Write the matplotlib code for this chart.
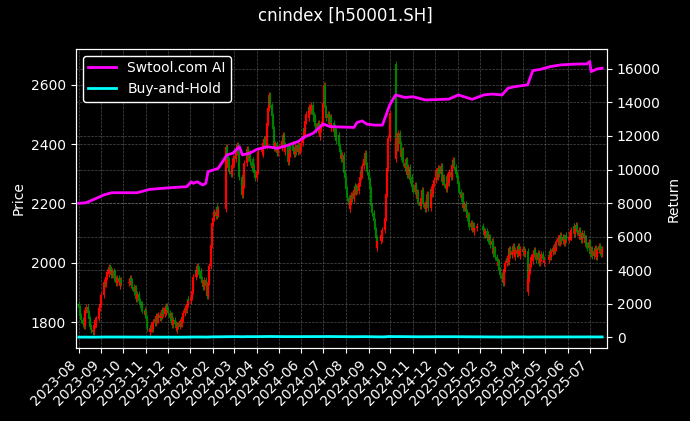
import pandas as pd
import matplotlib
matplotlib.use("Agg")
import matplotlib.pyplot as plt
import matplotlib.dates as mdates

plt.style.use("dark_background")

#
# Inputs
#

# daily closes, one line per month
close_2023_08 = [1848, 1835, 1822, 1806, 1795, 1788, 1812, 1840, 1852, 1830, 1812, 1798, 1785, 1772, 1768, 1790, 1806, 1795, 1812, 1828, 1846, 1862, 1875]
close_2023_09 = [1890, 1912, 1935, 1928, 1952, 1970, 1962, 1985, 1978, 1960, 1972, 1950, 1965, 1944, 1930, 1948, 1936, 1922, 1942, 1930]
close_2023_10 = [1935, 1948, 1925, 1940, 1918, 1902, 1915, 1890, 1878, 1895, 1872, 1860, 1848, 1862, 1840, 1825, 1838]
close_2023_11 = [1815, 1798, 1780, 1768, 1775, 1790, 1778, 1800, 1812, 1798, 1820, 1808, 1825, 1815, 1832, 1820, 1840, 1828, 1848, 1835, 1855, 1842]
close_2023_12 = [1832, 1815, 1825, 1805, 1790, 1808, 1795, 1780, 1772, 1790, 1785, 1802, 1795, 1818, 1810, 1832, 1848, 1840, 1862, 1878, 1870]
close_2024_01 = [1885, 1905, 1930, 1952, 1975, 1962, 1990, 1978, 1960, 1972, 1945, 1930, 1918, 1942, 1920, 1898, 1888, 1935, 1990, 2060, 2110, 2135]
close_2024_02 = [2150, 2172, 2158, 2188, 2165, 2180, 2390, 2355, 2320, 2345, 2310, 2298, 2330, 2352, 2335]
close_2024_03 = [2350, 2372, 2398, 2365, 2330, 2290, 2255, 2228, 2262, 2300, 2335, 2362, 2385, 2352, 2370, 2340, 2318, 2348, 2325, 2302, 2285]
close_2024_04 = [2310, 2345, 2372, 2390, 2365, 2402, 2418, 2395, 2470, 2520, 2548, 2565, 2530, 2495, 2452, 2410, 2385, 2402, 2370, 2388]
close_2024_05 = [2410, 2432, 2398, 2372, 2390, 2355, 2340, 2368, 2395, 2380, 2402, 2378, 2365, 2390, 2372, 2385, 2398, 2375, 2388, 2405]
close_2024_06 = [2428, 2455, 2440, 2478, 2502, 2488, 2525, 2510, 2532, 2498, 2475, 2490, 2462, 2448, 2470, 2440, 2425, 2452, 2468]
close_2024_07 = [2540, 2598, 2565, 2520, 2488, 2502, 2468, 2490, 2455, 2472, 2440, 2458, 2425, 2445, 2410, 2430, 2395, 2372, 2350, 2362, 2325, 2302, 2285]
close_2024_08 = [2250, 2218, 2195, 2180, 2205, 2228, 2215, 2245, 2260, 2238, 2255, 2242, 2268, 2290, 2310, 2295, 2325, 2348, 2370, 2352, 2330, 2305]
close_2024_09 = [2280, 2250, 2215, 2190, 2168, 2140, 2110, 2085, 2050, 2072, 2095, 2080, 2110, 2128, 2150, 2230, 2320, 2420, 2505]
close_2024_10 = [2350, 2420, 2385, 2438, 2400, 2372, 2355, 2380, 2335, 2320, 2348, 2310, 2295, 2322, 2280, 2268, 2290, 2255]
close_2024_11 = [2240, 2262, 2230, 2215, 2238, 2205, 2190, 2218, 2245, 2225, 2198, 2180, 2205, 2232, 2210, 2186, 2220, 2248, 2230, 2265, 2280]
close_2024_12 = [2295, 2310, 2288, 2318, 2300, 2325, 2296, 2272, 2290, 2265, 2248, 2275, 2292, 2270, 2305, 2288, 2312, 2330, 2345, 2322, 2300, 2285]
close_2025_01 = [2265, 2240, 2218, 2230, 2205, 2185, 2198, 2170, 2150, 2162, 2138, 2120, 2135, 2112, 2128, 2105, 2118, 2125]
close_2025_02 = [2110, 2095, 2108, 2082, 2098, 2075, 2088, 2060, 2072, 2045, 2030, 2048, 2020, 2005, 1990, 2002, 1975, 1960]
close_2025_03 = [1945, 1932, 1955, 1978, 1998, 2015, 2002, 2030, 2048, 2025, 2040, 2058, 2035, 2020, 2042, 2030, 2055, 2038, 2022, 2045, 2035]
close_2025_04 = [2045, 2030, 2040, 1900, 1945, 1972, 1995, 2018, 2005, 2030, 2042, 2025, 2010, 2032, 2018, 2000, 2015, 2028, 2012, 1998, 2010]
close_2025_05 = [2025, 2040, 2018, 2035, 2050, 2038, 2062, 2048, 2070, 2085, 2065, 2078, 2095, 2072, 2088, 2068, 2080, 2092, 2075]
close_2025_06 = [2088, 2102, 2085, 2110, 2125, 2098, 2115, 2128, 2105, 2090, 2112, 2095, 2078, 2100, 2085, 2068, 2082, 2060, 2048, 2070]
close_2025_07 = [2055, 2030, 2045, 2022, 2038, 2050, 2032, 2018, 2042, 2058, 2035, 2048, 2030, 2045]

# market closed on these weekdays
holidays = ["2023-09-29", "2023-10-02", "2023-10-03", "2023-10-04", "2023-10-05", "2023-10-06",
            "2024-01-01", "2024-02-09", "2024-02-12", "2024-02-13", "2024-02-14", "2024-02-15", "2024-02-16",
            "2024-04-04", "2024-04-05", "2024-05-01", "2024-05-02", "2024-05-03", "2024-06-10",
            "2024-09-16", "2024-09-17", "2024-10-01", "2024-10-02", "2024-10-03", "2024-10-04", "2024-10-07",
            "2025-01-01", "2025-01-28", "2025-01-29", "2025-01-30", "2025-01-31", "2025-02-03", "2025-02-04",
            "2025-04-04", "2025-05-01", "2025-05-02", "2025-05-05", "2025-06-02"]

# opens that differ from the previous close
gap_open = {"2023-08-01": 1860, "2024-10-08": 2670}

# strategy curve (right axis)
swtool_dates = ["2023-08-01", "2023-08-11", "2023-08-25", "2023-09-04", "2023-09-15", "2023-10-20",
                "2023-11-06", "2023-12-04", "2023-12-27", "2024-01-02", "2024-01-05", "2024-01-10",
                "2024-01-18", "2024-01-22", "2024-01-25", "2024-02-08", "2024-02-20", "2024-02-28",
                "2024-03-08", "2024-03-12", "2024-03-22", "2024-04-01", "2024-04-15", "2024-04-29",
                "2024-05-10", "2024-05-27", "2024-06-06", "2024-06-17", "2024-07-01", "2024-07-10",
                "2024-08-12", "2024-08-16", "2024-08-23", "2024-08-30", "2024-09-10", "2024-09-20",
                "2024-09-26", "2024-09-30", "2024-10-08", "2024-10-21", "2024-11-01", "2024-11-18",
                "2024-12-20", "2025-01-02", "2025-01-13", "2025-01-21", "2025-02-06", "2025-02-17",
                "2025-03-03", "2025-03-11", "2025-03-21", "2025-04-07", "2025-04-14", "2025-04-25",
                "2025-05-08", "2025-05-22", "2025-06-11", "2025-06-27", "2025-07-01", "2025-07-03",
                "2025-07-11", "2025-07-18"]
swtool_values = [7980, 8020, 8280, 8480, 8615, 8615,
                 8815, 8915, 8975, 9270, 9175, 9270,
                 9075, 9175, 9870, 10070, 10870, 10970,
                 11360, 10870, 10970, 11200, 11360, 11270,
                 11400, 11660, 11960, 12160, 12720, 12560,
                 12510, 12800, 12900, 12700, 12650, 12650,
                 13370, 13850, 14450, 14300, 14340, 14150,
                 14200, 14450, 14300, 14190, 14450, 14500,
                 14450, 14850, 14950, 15050, 15900, 15980,
                 16140, 16240, 16290, 16300, 16440, 15840,
                 16000, 16040]

#
# Prepare
#

close = (close_2023_08 + close_2023_09 + close_2023_10 + close_2023_11 + close_2023_12 +
         close_2024_01 + close_2024_02 + close_2024_03 + close_2024_04 + close_2024_05 +
         close_2024_06 + close_2024_07 + close_2024_08 + close_2024_09 + close_2024_10 +
         close_2024_11 + close_2024_12 + close_2025_01 + close_2025_02 + close_2025_03 +
         close_2025_04 + close_2025_05 + close_2025_06 + close_2025_07)

dates = pd.bdate_range("2023-08-01", periods=len(close), freq="C", holidays=holidays)

opens = []
prev = close[0]
for d, c in zip(dates, close):
    opens.append(gap_open.get(d.strftime("%Y-%m-%d"), prev))
    prev = c

body_lo = [min(o, c) for o, c in zip(opens, close)]
body_hi = [max(o, c) for o, c in zip(opens, close)]
colors = ["red" if c >= o else "green" for o, c in zip(opens, close)]

# buy-and-hold return of the index, in percent
buy_hold = [(c / close[0] - 1) * 100 for c in close]

#
# Plot
#

wick = 10  # shadow drawn past the body, price units (style only)

fig = plt.figure(figsize=(6.9, 4.21), dpi=100)
ax = fig.add_axes([0.110, 0.173, 0.770, 0.711])

ax.vlines(dates, [v - wick for v in body_lo], [v + wick for v in body_hi], colors=colors, linewidth=0.7)
ax.vlines(dates, body_lo, body_hi, colors=colors, linewidth=1.6)
ax.set_ylim(1712, 2721)
ax.set_yticks([1800, 2000, 2200, 2400, 2600])
ax.set_ylabel("Price")
ax.set_xlim(pd.Timestamp("2023-07-28"), pd.Timestamp("2025-07-25"))
ax.xaxis.set_major_locator(mdates.MonthLocator())
ax.xaxis.set_major_formatter(mdates.DateFormatter("%Y-%m"))
plt.setp(ax.get_xticklabels(), rotation=45, ha="right")
ax.grid(True, linestyle="--", linewidth=0.5, color="gray", alpha=0.6)

ax2 = ax.twinx()
ax2.plot(pd.to_datetime(swtool_dates), swtool_values, color="magenta", linewidth=2, label="Swtool.com AI")
ax2.plot(dates, buy_hold, color="cyan", linewidth=2, label="Buy-and-Hold")
ax2.set_ylim(-660, 17200)
ax2.set_yticks(range(0, 16001, 2000))
ax2.set_ylabel("Return")
ax2.grid(True, axis="y", linestyle="--", linewidth=0.5, color="gray", alpha=0.6)
ax2.legend(loc="upper left", facecolor="black", edgecolor="white", framealpha=1)

fig.text(0.5, 0.963, "cnindex [h50001.SH]", ha="center", va="center", fontsize=12)

plt.savefig("out.png", dpi=100)
